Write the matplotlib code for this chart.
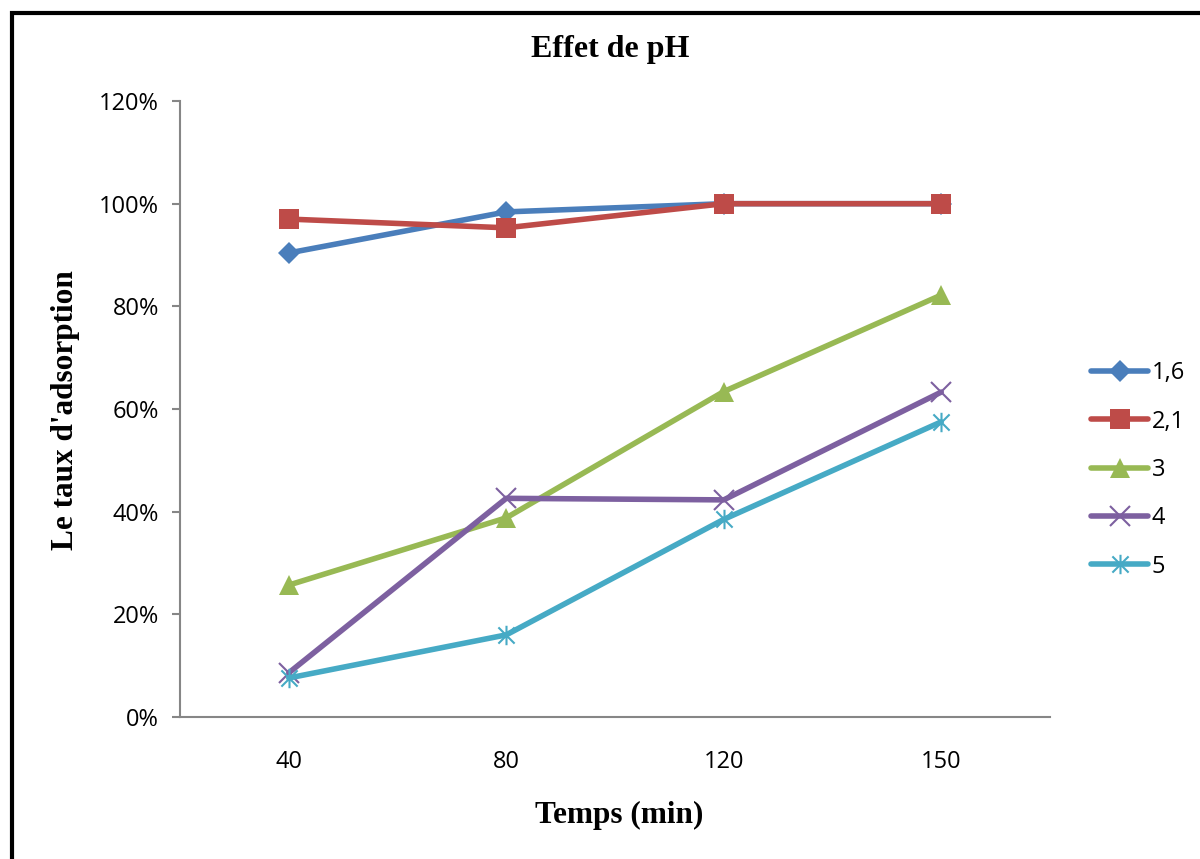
import matplotlib
matplotlib.use("Agg")
import matplotlib.pyplot as plt
from matplotlib.path import Path
from matplotlib.patches import Rectangle
from matplotlib.ticker import PercentFormatter

categories = ["40", "80", "120", "150"]
series_names = ["1,6", "2,1", "3", "4", "5"]
s_1_6 = [0.904, 0.984, 1.00, 1.00]
s_2_1 = [0.970, 0.953, 1.00, 1.00]
s_3 = [0.257, 0.388, 0.634, 0.822]
s_4 = [0.086, 0.426, 0.423, 0.633]
s_5 = [0.076, 0.160, 0.385, 0.575]
yticks = [0, 0.2, 0.4, 0.6, 0.8, 1.0, 1.2]

colors = ["#4A7EBB", "#BE4B48", "#98B954", "#7D60A0", "#46AAC5"]

# asterisk marker: x plus vertical bar
ast = Path([(-0.5, -0.5), (0.5, 0.5), (-0.5, 0.5), (0.5, -0.5), (0, -0.6), (0, 0.6)],
           [Path.MOVETO, Path.LINETO, Path.MOVETO, Path.LINETO, Path.MOVETO, Path.LINETO])

fig = plt.figure(figsize=(12, 8.59), dpi=100)
ax = fig.add_axes([0.15, 0.1653, 0.725, 0.7171])

x = list(range(len(categories)))
data = [s_1_6, s_2_1, s_3, s_4, s_5]
markers = ["D", "s", "^", "x", ast]
msizes = [11.5, 14, 14, 14, 14]
for name, vals, c, m, ms in zip(series_names, data, colors, markers, msizes):
    kw = dict(color=c, lw=4, marker=m, markersize=ms, label=name, solid_capstyle="round")
    if m in ("x",) or m is ast:
        kw.update(markeredgewidth=1.5, markerfacecolor="none", markeredgecolor=c)
    else:
        kw.update(markeredgewidth=0, markerfacecolor=c)
    ax.plot(x, vals, **kw)

ax.set_xlim(-0.5, 3.5)
ax.set_ylim(0, 1.2)
ax.set_yticks(yticks)
ax.yaxis.set_major_formatter(PercentFormatter(1.0, decimals=0))
ax.set_xticks(x)
ax.set_xticklabels(categories)
for s in ["top", "right"]:
    ax.spines[s].set_visible(False)
for s in ["left", "bottom"]:
    ax.spines[s].set_color("#868686")
    ax.spines[s].set_linewidth(1.5)
ax.tick_params(axis="y", direction="out", length=6, width=1.5, color="#868686",
               labelsize=17, pad=9)
ax.tick_params(axis="x", length=0, labelsize=17, pad=24)
for lab in ax.get_xticklabels() + ax.get_yticklabels():
    lab.set_fontfamily("Open Sans")

serif = "Liberation Serif"
fig.text(610 / 1200, 1 - 50 / 859, "Effet de pH", ha="center", va="center",
         fontsize=23, fontweight="bold", family=serif)
fig.text(619 / 1200, 1 - 815 / 859, "Temps (min)", ha="center", va="center",
         fontsize=22.5, fontweight="bold", family=serif)
fig.text(66 / 1200, 1 - 410 / 859, "Le taux d'adsorption", ha="center", va="center",
         rotation=90, fontsize=22.5, fontweight="bold", family=serif)

leg = fig.legend(loc="center left", bbox_to_anchor=(1070 / 1200, 1 - 470 / 859),
                 frameon=False, prop={"family": "Open Sans", "size": 17},
                 handlelength=2.4, handletextpad=0.15, labelspacing=1.03)

# border (left and top visible)
fig.patches.append(Rectangle((12 / 1200, -0.5), 2.0, 0.5 + 1 - 13 / 859,
                             transform=fig.transFigure, fill=False,
                             edgecolor="black", linewidth=3))

fig.savefig("out.png", dpi=100)
